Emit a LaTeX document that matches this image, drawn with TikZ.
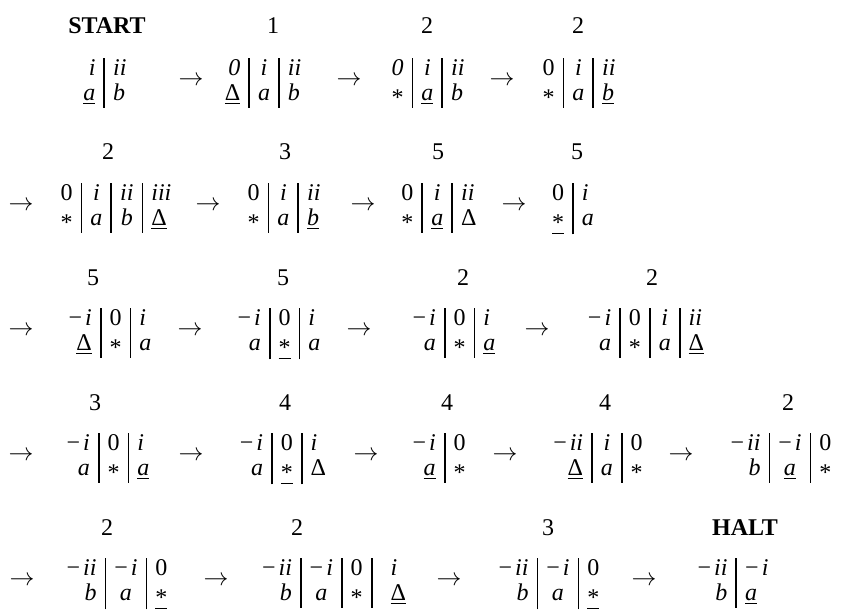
\documentclass[tikz,border=0pt]{standalone}
\usepackage{fontspec}
\setmainfont{Liberation Serif}
\usepackage{array}
\setlength\arrayrulewidth{1.8pt}
\setlength\tabcolsep{8pt}
\newcommand\ulx[1]{\vtop{\hbox{#1}\kern2.5pt\hrule height1.5pt}}
\newcommand\astx{\raisebox{-0.22em}{*}}
\newcommand\Dl{Δ}
\newcommand\mn{−\kern3pt}
\newcommand\cfgtab[2]{\begin{tabular}[t]{@{}#1@{}}#2\end{tabular}}
\tikzset{
  cfg/.style={anchor=base, inner sep=0pt, font=\fontsize{24}{25}\selectfont},
  lab/.style={anchor=base, inner sep=0pt, font=\fontsize{24}{25}\selectfont},
  arr/.style={anchor=center, inner sep=0pt, font=\fontsize{24}{25}\selectfont}
}
\begin{document}
\begin{tikzpicture}[x=1pt,y=-1pt]
\useasboundingbox (0,0) rectangle (845,611);
% ---------- Row 1 (T=75)
\node[lab] (l1) at (107,33) {\textbf{START}};
\node[cfg] (c1) at (105,75) {\cfgtab{r|l}{\textit{i} & \textit{ii}\\ \ulx{\textit{a}} & \textit{b}}};
\node[arr] (a1) at (191,81) {$\rightarrow$};
\node[lab] (l2) at (273,33) {1};
\node[cfg] (c2) at (263,75) {\cfgtab{r|c|l}{\textit{0} & \textit{i} & \textit{ii}\\ \ulx{\Dl} & \textit{a} & \textit{b}}};
\node[arr] (a2) at (349,81) {$\rightarrow$};
\node[lab] (l3) at (427,33) {2};
\node[cfg] (c3) at (428,75) {\cfgtab{r|c|l}{\textit{0} & \textit{i} & \textit{ii}\\ \astx & \ulx{\textit{a}} & \textit{b}}};
\node[arr] (a3) at (502,81) {$\rightarrow$};
\node[lab] (l4) at (578,33) {2};
\node[cfg] (c4) at (579,75) {\cfgtab{r|c|l}{0 & \textit{i} & \textit{ii}\\ \astx & \textit{a} & \ulx{\textit{b}}}};
% ---------- Row 2 (T=200)
\node[arr] (a4) at (21,206) {$\rightarrow$};
\node[lab] (l5) at (108,159) {2};
\node[cfg] (c5) at (116,200) {\cfgtab{r|c|c|l}{0 & \textit{i} & \textit{ii} & \textit{iii}\\ \astx & \textit{a} & \textit{b} & \ulx{\Dl}}};
\node[arr] (a5) at (208,206) {$\rightarrow$};
\node[lab] (l6) at (285,159) {3};
\node[cfg] (c6) at (284,200) {\cfgtab{r|c|l}{0 & \textit{i} & \textit{ii}\\ \astx & \textit{a} & \ulx{\textit{b}}}};
\node[arr] (a6) at (363,206) {$\rightarrow$};
\node[lab] (l7) at (438,159) {5};
\node[cfg] (c7) at (439,200) {\cfgtab{r|c|l}{0 & \textit{i} & \textit{ii}\\ \astx & \ulx{\textit{a}} & \Dl}};
\node[arr] (a7) at (514,206) {$\rightarrow$};
\node[lab] (l8) at (577,159) {5};
\node[cfg] (c8) at (573,200) {\cfgtab{r|l}{0 & \textit{i}\\ \ulx{\astx} & \textit{a}}};
% ---------- Row 3 (T=325)
\node[arr] (a8) at (21,331) {$\rightarrow$};
\node[lab] (l9) at (93,285) {5};
\node[cfg] (c9) at (110,325) {\cfgtab{r|c|l}{\mn\textit{i} & 0 & \textit{i}\\ \ulx{\Dl} & \astx & \textit{a}}};
\node[arr] (a9) at (190,331) {$\rightarrow$};
\node[lab] (l10) at (283,285) {5};
\node[cfg] (c10) at (279,325) {\cfgtab{r|c|l}{\mn\textit{i} & 0 & \textit{i}\\ \textit{a} & \ulx{\astx} & \textit{a}}};
\node[arr] (a10) at (359,331) {$\rightarrow$};
\node[lab] (l11) at (463,285) {2};
\node[cfg] (c11) at (454,325) {\cfgtab{r|c|l}{\mn\textit{i} & 0 & \textit{i}\\ \textit{a} & \astx & \ulx{\textit{a}}}};
\node[arr] (a11) at (537,331) {$\rightarrow$};
\node[lab] (l12) at (652,285) {2};
\node[cfg] (c12) at (646,325) {\cfgtab{r|c|c|l}{\mn\textit{i} & 0 & \textit{i} & \textit{ii}\\ \textit{a} & \astx & \textit{a} & \ulx{\Dl}}};
% ---------- Row 4 (T=450)
\node[arr] (a12) at (21,456) {$\rightarrow$};
\node[lab] (l13) at (95,410) {3};
\node[cfg] (c13) at (108,450) {\cfgtab{r|c|l}{\mn\textit{i} & 0 & \textit{i}\\ \textit{a} & \astx & \ulx{\textit{a}}}};
\node[arr] (a13) at (191,456) {$\rightarrow$};
\node[lab] (l14) at (285,410) {4};
\node[cfg] (c14) at (283,450) {\cfgtab{r|c|l}{\mn\textit{i} & 0 & \textit{i}\\ \textit{a} & \ulx{\astx} & \Dl}};
\node[arr] (a14) at (366,456) {$\rightarrow$};
\node[lab] (l15) at (447,410) {4};
\node[cfg] (c15) at (439,450) {\cfgtab{r|l}{\mn\textit{i} & 0\\ \ulx{\textit{a}} & \astx}};
\node[arr] (a15) at (505,456) {$\rightarrow$};
\node[lab] (l16) at (605,410) {4};
\node[cfg] (c16) at (598,450) {\cfgtab{r|c|l}{\mn\textit{ii} & \textit{i} & 0\\ \ulx{\Dl} & \textit{a} & \astx}};
\node[arr] (a16) at (681,456) {$\rightarrow$};
\node[lab] (l17) at (788,410) {2};
\node[cfg] (c17) at (781,450) {\cfgtab{r|c|l}{\mn\textit{ii} & \mn\textit{i} & 0\\ \textit{b} & \ulx{\textit{a}} & \astx}};
% ---------- Row 5 (T=575)
\node[arr] (a17) at (22,581) {$\rightarrow$};
\node[lab] (l18) at (107,535) {2};
\node[cfg] (c18) at (117,575) {\cfgtab{r|c|l}{\mn\textit{ii} & \mn\textit{i} & 0\\ \textit{b} & \textit{a} & \ulx{\astx}}};
\node[arr] (a18) at (216,581) {$\rightarrow$};
\node[lab] (l19) at (297,535) {2};
\node[cfg] (c19) at (334,575) {\cfgtab{r|c|c|>{\hspace{10pt}}l}{\mn\textit{ii} & \mn\textit{i} & 0 & \textit{i}\\ \textit{b} & \textit{a} & \astx & \ulx{\Dl}}};
\node[arr] (a19) at (449,581) {$\rightarrow$};
\node[lab] (l20) at (548,535) {3};
\node[cfg] (c20) at (549,575) {\cfgtab{r|c|l}{\mn\textit{ii} & \mn\textit{i} & 0\\ \textit{b} & \textit{a} & \ulx{\astx}}};
\node[arr] (a20) at (644,581) {$\rightarrow$};
\node[lab] (l21) at (745,535) {\textbf{HALT}};
\node[cfg] (c21) at (733,575) {\cfgtab{r|l}{\mn\textit{ii} & \mn\textit{i}\\ \textit{b} & \ulx{\textit{a}}}};
\end{tikzpicture}
\end{document}
